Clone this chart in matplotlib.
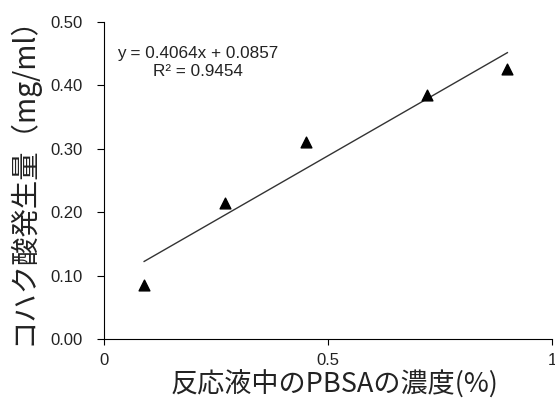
import matplotlib
matplotlib.use("Agg")
import matplotlib.pyplot as plt
import numpy as np

x_vals = [0.09, 0.27, 0.45, 0.72, 0.90]
y_vals = [0.085, 0.214, 0.310, 0.384, 0.426]
slope = 0.4064
intercept = 0.0857
eq_text = "y = 0.4064x + 0.0857\nR² = 0.9454"
x_ticks = [0, 0.5, 1]
x_tick_labels = ["0", "0.5", "1"]
y_ticks = [0.0, 0.1, 0.2, 0.3, 0.4, 0.5]
y_tick_labels = ["0.00", "0.10", "0.20", "0.30", "0.40", "0.50"]

plt.rcParams['font.family'] = ['Liberation Sans', 'DejaVu Sans']
fig = plt.figure(figsize=(5.55, 4.05), dpi=100)
ax = fig.add_axes([0.187, 0.163, 0.808, 0.783])

ax.scatter(x_vals, y_vals, marker='^', color='black', s=60, zorder=3, clip_on=False)
xf = np.array([min(x_vals), max(x_vals)])
ax.plot(xf, slope * xf + intercept, color='#333333', lw=1.0)

ax.set_xlim(0, 1)
ax.set_ylim(0, 0.5)
ax.set_xticks(x_ticks)
ax.set_xticklabels(x_tick_labels)
ax.set_yticks(y_ticks)
ax.set_yticklabels(y_tick_labels)
for s in ['top', 'right']:
    ax.spines[s].set_visible(False)
ax.tick_params(axis='y', direction='out', length=5, pad=10, labelsize=12)
ax.tick_params(axis='x', direction='out', length=4, pad=6, labelsize=12)
ax.tick_params(colors='black', which='both', labelcolor='#222222')

ax.text(0.21, 0.436, eq_text, ha='center', va='center', fontsize=12.3, linespacing=1.25,
        transform=ax.transData, color='#222222')

jp = ['Noto Sans CJK JP', 'DejaVu Sans']
fig.text(0.042, 0.572, "コハク酸発生量（mg/ml）", rotation=90, ha='center', va='center',
         fontsize=20.4, family=jp, color='#222222')
fig.text(0.602, 0.05, "反応液中のPBSAの濃度(%)", ha='center', va='center',
         fontsize=19.5, family=jp, color='#222222')

fig.savefig("out.png", dpi=100)
